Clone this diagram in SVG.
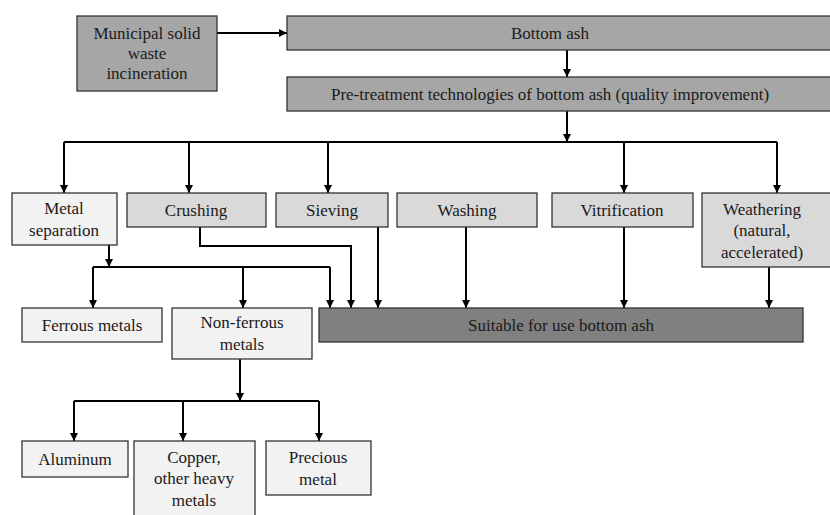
<svg xmlns="http://www.w3.org/2000/svg" width="830" height="515" viewBox="0 0 830 515">
<defs>
<marker id="ah" viewBox="0 0 10 10" refX="10" refY="5" markerWidth="4" markerHeight="4" markerUnits="strokeWidth" orient="auto">
<path d="M0,0 L10,5 L0,10 z" fill="#000"/>
</marker>
<style>
.b{stroke:#333;stroke-width:1.3}
.d{fill:#a6a6a6}
.m{fill:#d9d9d9}
.l{fill:#f2f2f2}
.s{fill:#808080}
.t text{font-size:17px;fill:#1a1a1a;text-anchor:middle}
.c path{fill:none;stroke:#000;stroke-width:2}
.c path.a{marker-end:url(#ah)}
</style>
</defs>
<rect width="830" height="515" fill="#fff"/>
<g class="c" id="connectors">
<path class="a" d="M217,33 H287"/>
<path class="a" d="M567,50 V77"/>
<path class="a" d="M567,111 V142"/>
<path d="M64,142 H777"/>
<path class="a" d="M64,142 V193"/>
<path class="a" d="M189,142 V193"/>
<path class="a" d="M328,142 V193"/>
<path class="a" d="M624,142 V193"/>
<path class="a" d="M777,142 V193"/>
<path class="a" d="M109,245 V267"/>
<path d="M93,267 H330"/>
<path class="a" d="M93,267 V308"/>
<path class="a" d="M243,267 V308"/>
<path class="a" d="M330,267 V308"/>
<path class="a" d="M200,227 V246 H351 V308"/>
<path class="a" d="M378,227 V308"/>
<path class="a" d="M466,227 V308"/>
<path class="a" d="M624,227 V308"/>
<path class="a" d="M769,267 V308"/>
<path class="a" d="M240,359 V401"/>
<path d="M74,401 H319"/>
<path class="a" d="M74,401 V441"/>
<path class="a" d="M183,401 V441"/>
<path class="a" d="M319,401 V441"/>
</g>
<g class="t" font-family="Liberation Serif, Times New Roman, DejaVu Serif, serif">
<g id="msw"><rect class="b d" x="77" y="16" width="140" height="75"/><text x="147" y="39">Municipal solid</text><text x="147" y="59">waste</text><text x="147" y="79">incineration</text></g>
<g id="bottom-ash"><rect class="b d" x="287" y="16" width="545" height="34"/><text x="550" y="39">Bottom ash</text></g>
<g id="pretreatment"><rect class="b d" x="287" y="77" width="545" height="34"/><text x="550" y="100">Pre-treatment technologies of bottom ash (quality improvement)</text></g>
<g id="metal-separation"><rect class="b l" x="12" y="193" width="105" height="52"/><text x="64" y="214">Metal</text><text x="64" y="236">separation</text></g>
<g id="crushing"><rect class="b m" x="127" y="193" width="139" height="34"/><text x="196" y="216">Crushing</text></g>
<g id="sieving"><rect class="b m" x="276" y="193" width="112" height="34"/><text x="332" y="216">Sieving</text></g>
<g id="washing"><rect class="b m" x="397" y="193" width="140" height="34"/><text x="467" y="216">Washing</text></g>
<g id="vitrification"><rect class="b m" x="552" y="193" width="141" height="34"/><text x="622" y="216">Vitrification</text></g>
<g id="weathering"><rect class="b m" x="702" y="193" width="130" height="74"/><text x="762" y="215">Weathering</text><text x="762" y="236">(natural,</text><text x="762" y="258">accelerated)</text></g>
<g id="ferrous"><rect class="b l" x="22" y="308" width="140" height="34"/><text x="92" y="331">Ferrous metals</text></g>
<g id="non-ferrous"><rect class="b l" x="172" y="308" width="140" height="51"/><text x="242" y="328">Non-ferrous</text><text x="242" y="350">metals</text></g>
<g id="suitable"><rect class="b s" x="319" y="308" width="484" height="34"/><text x="561" y="331">Suitable for use bottom ash</text></g>
<g id="aluminum"><rect class="b l" x="22" y="441" width="106" height="36"/><text x="75" y="465">Aluminum</text></g>
<g id="copper"><rect class="b l" x="134" y="441" width="121" height="80"/><text x="194" y="463">Copper,</text><text x="194" y="484">other heavy</text><text x="194" y="506">metals</text></g>
<g id="precious"><rect class="b l" x="266" y="441" width="105" height="54"/><text x="318" y="463">Precious</text><text x="318" y="485">metal</text></g>
</g>
</svg>
